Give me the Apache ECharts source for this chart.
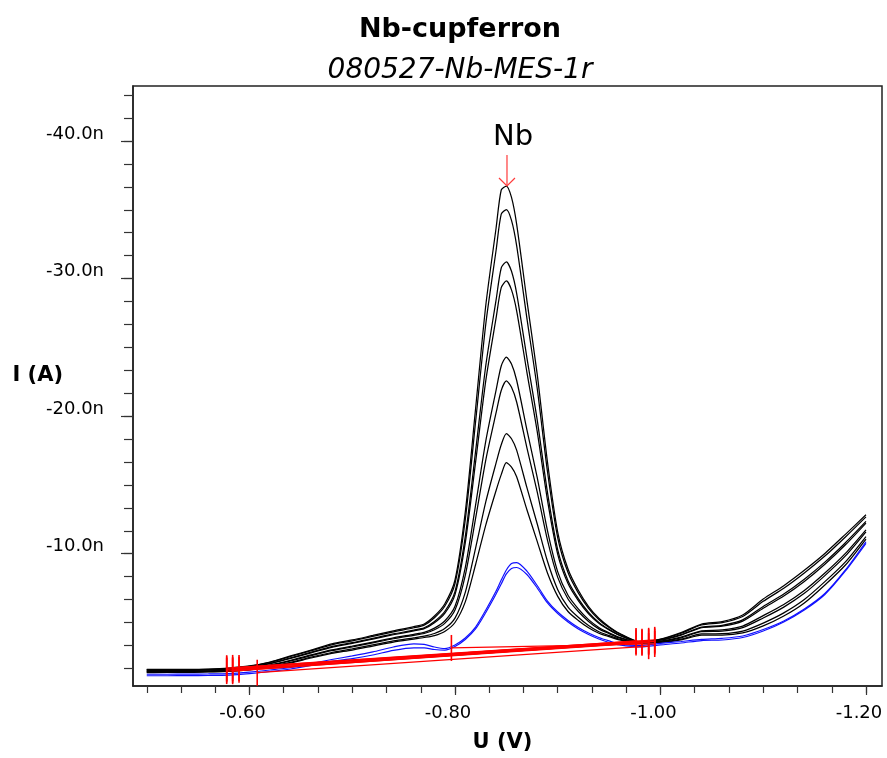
<!DOCTYPE html>
<html><head><meta charset="utf-8">
<script src="https://cdn.jsdelivr.net/npm/echarts@6/dist/echarts.min.js"></script>
<style>html,body{margin:0;padding:0;background:#fff}#c{width:887px;height:758px}</style>
</head><body><div id="c"></div>
<script>
// Potentials (V)
const potentials = [-0.50,-0.52,-0.54,-0.56,-0.58,-0.60,-0.62,-0.64,-0.66,-0.68,-0.70,-0.72,-0.74,-0.76,
  -0.77,-0.78,-0.79,-0.80,-0.81,-0.82,-0.83,-0.84,-0.845,-0.85,-0.855,
  -0.86,-0.87,-0.88,-0.89,-0.90,-0.91,-0.92,-0.93,-0.94,-0.95,-0.96,
  -0.98,-1.00,-1.02,-1.04,-1.06,-1.08,-1.10,-1.12,-1.14,-1.16,-1.18,-1.20];
// Currents (nA), standard additions (black)
const curve1 = [-1.60,-1.60,-1.60,-1.62,-1.69,-1.84,-2.13,-2.57,-3.00,-3.44,-3.73,-4.06,-4.39,-4.70,-4.89,-5.47,-6.35,-8.09,-13.03,-20.52,-28.08,-33.68,-36.44,-36.73,-35.90,-33.96,-28.40,-23.06,-16.67,-11.56,-8.89,-7.34,-6.16,-5.31,-4.70,-4.22,-3.60,-3.80,-4.27,-4.89,-5.07,-5.55,-6.71,-7.68,-8.80,-10.02,-11.41,-12.83];
const curve2 = [-1.58,-1.58,-1.58,-1.60,-1.67,-1.82,-2.10,-2.53,-2.95,-3.38,-3.67,-3.99,-4.32,-4.62,-4.81,-5.35,-6.18,-7.83,-12.47,-19.56,-26.72,-32.06,-34.68,-35.02,-34.23,-32.40,-27.11,-22.03,-15.98,-11.16,-8.63,-7.15,-6.03,-5.22,-4.64,-4.18,-3.59,-3.78,-4.22,-4.82,-4.99,-5.44,-6.54,-7.49,-8.60,-9.83,-11.22,-12.68];
const curve3 = [-1.53,-1.54,-1.54,-1.56,-1.62,-1.76,-2.03,-2.43,-2.84,-3.25,-3.53,-3.85,-4.17,-4.45,-4.62,-5.08,-5.80,-7.24,-11.24,-17.42,-23.70,-28.45,-30.77,-31.22,-30.53,-28.93,-24.24,-19.73,-14.46,-10.28,-8.04,-6.74,-5.74,-5.01,-4.50,-4.09,-3.58,-3.73,-4.12,-4.67,-4.80,-5.19,-6.17,-7.07,-8.15,-9.39,-10.80,-12.35];
const curve4 = [-1.52,-1.52,-1.52,-1.55,-1.60,-1.74,-2.01,-2.40,-2.80,-3.20,-3.48,-3.80,-4.11,-4.39,-4.55,-4.98,-5.66,-7.03,-10.79,-16.64,-22.60,-27.14,-29.34,-29.83,-29.18,-27.66,-23.19,-18.89,-13.90,-9.96,-7.83,-6.59,-5.63,-4.94,-4.45,-4.06,-3.57,-3.71,-4.08,-4.62,-4.73,-5.10,-6.04,-6.92,-7.98,-9.23,-10.65,-12.23];
const curve5 = [-1.45,-1.46,-1.46,-1.49,-1.54,-1.66,-1.91,-2.25,-2.64,-3.01,-3.28,-3.58,-3.89,-4.14,-4.28,-4.59,-5.11,-6.18,-8.99,-13.52,-18.20,-21.89,-23.65,-24.30,-23.79,-22.61,-19.01,-15.55,-11.68,-8.68,-6.98,-5.99,-5.21,-4.64,-4.25,-3.92,-3.54,-3.65,-3.94,-4.40,-4.46,-4.74,-5.50,-6.31,-7.33,-8.60,-10.03,-11.74];
const curve6 = [-1.43,-1.45,-1.45,-1.47,-1.51,-1.64,-1.88,-2.21,-2.59,-2.95,-3.22,-3.52,-3.82,-4.07,-4.20,-4.47,-4.94,-5.91,-8.43,-12.55,-16.83,-20.25,-21.87,-22.57,-22.10,-21.03,-17.70,-14.50,-10.99,-8.28,-6.71,-5.80,-5.08,-4.54,-4.19,-3.88,-3.54,-3.62,-3.89,-4.33,-4.38,-4.63,-5.33,-6.12,-7.12,-8.41,-9.84,-11.59];
const curve7 = [-1.39,-1.40,-1.40,-1.43,-1.47,-1.58,-1.81,-2.11,-2.48,-2.82,-3.08,-3.37,-3.67,-3.89,-4.01,-4.20,-4.56,-5.32,-7.19,-10.39,-13.78,-16.60,-17.92,-18.73,-18.36,-17.53,-14.80,-12.18,-9.45,-7.39,-6.12,-5.38,-4.78,-4.33,-4.05,-3.79,-3.52,-3.58,-3.79,-4.17,-4.19,-4.38,-4.96,-5.70,-6.67,-7.97,-9.41,-11.25];
const curve8 = [-1.36,-1.38,-1.38,-1.41,-1.44,-1.55,-1.77,-2.06,-2.42,-2.75,-3.00,-3.29,-3.58,-3.80,-3.91,-4.05,-4.35,-5.00,-6.50,-9.20,-12.10,-14.60,-15.75,-16.62,-16.30,-15.60,-13.20,-10.90,-8.60,-6.90,-5.80,-5.15,-4.62,-4.22,-3.97,-3.74,-3.51,-3.55,-3.73,-4.09,-4.09,-4.24,-4.75,-5.47,-6.42,-7.73,-9.18,-11.07];
// Sample (blue)
const sample1 = [-1.24,-1.24,-1.25,-1.26,-1.29,-1.40,-1.55,-1.73,-2.02,-2.31,-2.57,-2.86,-3.22,-3.45,-3.41,-3.22,-3.11,-3.37,-3.87,-4.67,-5.91,-7.29,-8.09,-8.82,-9.29,-9.36,-8.74,-7.69,-6.56,-5.76,-5.15,-4.64,-4.24,-3.91,-3.66,-3.44,-3.32,-3.48,-3.62,-3.77,-3.85,-4.02,-4.49,-5.11,-5.98,-7.11,-8.82,-10.87];
const sample2 = [-1.13,-1.13,-1.14,-1.15,-1.18,-1.29,-1.44,-1.62,-1.88,-2.17,-2.38,-2.64,-2.97,-3.15,-3.15,-3.04,-3.00,-3.26,-3.77,-4.53,-5.73,-7.07,-7.80,-8.53,-8.93,-9.00,-8.49,-7.51,-6.42,-5.65,-5.04,-4.53,-4.13,-3.80,-3.55,-3.37,-3.22,-3.37,-3.51,-3.69,-3.73,-3.91,-4.38,-5.04,-5.91,-7.04,-8.75,-10.76];
// Baselines (curves 1..8, then samples 1..2)
const baseLeftU  = [-0.5778,-0.5836,-0.5898,-0.5778,-0.5836,-0.5898,-0.5778,-0.5836,-0.7965,-0.6075];
const baseLeftI  = [-1.68,-1.70,-1.69,-1.59,-1.56,-1.57,-1.47,-1.46,-3.15,-1.35];
const baseRightU = [-0.9944,-0.9885,-0.9820,-0.9762,-0.9944,-0.9885,-0.9820,-0.9762,-0.9944,-0.9885];
const baseRightI = [-3.74,-3.67,-3.60,-3.66,-3.62,-3.57,-3.53,-3.55,-3.44,-3.28];
// Axis ticks
const xMajorTicks = [-0.6,-0.8,-1.0,-1.2];
const xMinorTicks = [-0.5,-0.5333,-0.5667,-0.6,-0.6333,-0.6667,-0.7,-0.7333,-0.7667,-0.8,-0.8333,-0.8667,-0.9,-0.9333,-0.9667,-1.0,-1.0333,-1.0667,-1.1,-1.1333,-1.1667,-1.2];
const yMajorTicks = [-40,-30,-20,-10];
const yMinorTicks = [-43.333,-41.667,-40,-38.333,-36.667,-35,-33.333,-31.667,-30,-28.333,-26.667,-25,-23.333,-21.667,-20,-18.333,-16.667,-15,-13.333,-11.667,-10,-8.333,-6.667,-5,-3.333,-1.667];
// Peak annotation
const peakName = 'Nb';
const peakU = -0.8506;
const peakI = -36.73;

const FONT = 'DejaVu Sans';
const xMin = -1.2156, xMax = -0.4866, yMin = -44.0, yMax = -0.385;

const blackCurves = [curve1, curve2, curve3, curve4, curve5, curve6, curve7, curve8];
const blueCurves = [sample1, sample2];
const series = [];
blackCurves.forEach(c => series.push({type:'line', data: potentials.map((u,i)=>[u,c[i]]), showSymbol:false, smooth:0.25,
  lineStyle:{color:'#000', width:1.25}, silent:true, z:2}));
blueCurves.forEach(c => series.push({type:'line', data: potentials.map((u,i)=>[u,c[i]]), showSymbol:false, smooth:0.25,
  lineStyle:{color:'#1010ff', width:1.2}, silent:true, z:2}));
baseLeftU.forEach((u,i) => series.push({type:'line', data:[[u, baseLeftI[i]],[baseRightU[i], baseRightI[i]]], showSymbol:false,
  lineStyle:{color:'#ff0000', width:1.3}, silent:true, z:3,
  markPoint:{symbol:'rect', symbolSize:[1.6,26], silent:true, itemStyle:{color:'#ff0000'}, label:{show:false},
    data:[{coord:[u, baseLeftI[i]]},{coord:[baseRightU[i], baseRightI[i]]}]}}));
series.push({type:'custom', data:[[peakU, peakI]], silent:true, z:5,
  renderItem:(params, api) => {
    const p = api.coord([api.value(0), api.value(1)]);
    return {type:'group', children:[
      {type:'line', shape:{x1:p[0], y1:p[1]-31, x2:p[0], y2:p[1]}, style:{stroke:'#ff3b3b', lineWidth:1.2}},
      {type:'polyline', shape:{points:[[p[0]-8,p[1]-8],[p[0],p[1]],[p[0]+8,p[1]-8]]}, style:{stroke:'#ff3b3b', fill:null, lineWidth:1.2}},
      {type:'text', x:p[0]+6, y:p[1]-49, style:{text:peakName, font:'29px "DejaVu Sans"', fill:'#000', align:'center', verticalAlign:'middle'}}
    ]};
  }});

const chart = echarts.init(document.getElementById('c'), null, {renderer:'canvas'});
chart.setOption({
  animation:false,
  backgroundColor:'#fff',
  title:{text:'Nb-cupferron', subtext:'080527-Nb-MES-1r', left:460, top:16, textAlign:'center', padding:0, itemGap:14,
    textStyle:{fontFamily:FONT, fontWeight:'bold', fontSize:27, color:'#000'},
    subtextStyle:{fontFamily:FONT, fontStyle:'italic', fontSize:28, color:'#000'}},
  grid:{left:133, right:5, top:86, bottom:72, outerBoundsMode:'none', containLabel:false,
    show:true, borderColor:'#222', borderWidth:1.5, backgroundColor:'transparent'},
  xAxis:[
    {type:'value', min:xMin, max:xMax, inverse:true, position:'bottom',
     axisLine:{show:true, lineStyle:{color:'#222', width:1.5}},
     axisTick:{show:true, customValues:xMajorTicks, length:9, lineStyle:{color:'#333', width:1.2}},
     axisLabel:{customValues:xMajorTicks, formatter:v=>v.toFixed(2), fontFamily:FONT, fontSize:18, color:'#000', margin:18, padding:[0,14,0,0]},
     splitLine:{show:false},
     name:'U (V)', nameLocation:'middle', nameGap:46, nameMoveOverlap:false,
     nameTextStyle:{fontFamily:FONT, fontWeight:'bold', fontSize:21, color:'#000', padding:[0,10,0,0]}},
    {type:'value', min:xMin, max:xMax, inverse:true, position:'bottom',
     axisLine:{show:false}, axisTick:{show:true, customValues:xMinorTicks, length:7, lineStyle:{color:'#333', width:1.2}},
     axisLabel:{show:false}, splitLine:{show:false}}
  ],
  yAxis:[
    {type:'value', min:yMin, max:yMax, inverse:true, position:'left',
     axisLine:{show:true, lineStyle:{color:'#222', width:1.5}},
     axisTick:{show:true, customValues:yMajorTicks, length:12, lineStyle:{color:'#333', width:1.2}},
     axisLabel:{customValues:yMajorTicks, formatter:v=>v.toFixed(1)+'n', fontFamily:FONT, fontSize:18, color:'#000', margin:29,
       verticalAlign:'bottom', lineHeight:14},
     splitLine:{show:false},
     name:'I (A)', nameLocation:'middle', nameRotate:0, nameGap:70, nameMoveOverlap:false,
     nameTextStyle:{fontFamily:FONT, fontWeight:'bold', fontSize:21, color:'#000', verticalAlign:'bottom'}},
    {type:'value', min:yMin, max:yMax, inverse:true, position:'left',
     axisLine:{show:false}, axisTick:{show:true, customValues:yMinorTicks, length:9, lineStyle:{color:'#333', width:1.2}},
     axisLabel:{show:false}, splitLine:{show:false}}
  ],
  series: series
});
</script></body></html>
